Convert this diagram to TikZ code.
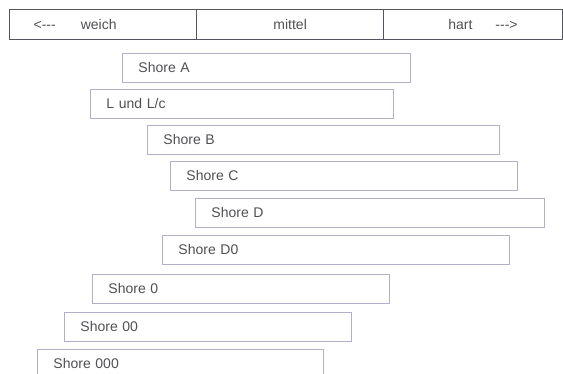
\documentclass[tikz,border=0pt]{standalone}
\usepackage{fontspec}
\setmainfont{Liberation Sans}
\usepackage{xcolor}
\usepackage{tikz}

\definecolor{textgray}{HTML}{505054}
\definecolor{barline}{HTML}{B2AFCB}
\definecolor{headline}{HTML}{55555F}

\begin{document}
\begin{tikzpicture}[x=1pt, y=-1pt]
    % Styles
    \tikzstyle{head} = [rectangle, draw=headline, line width=1.3pt, minimum height=30pt, anchor=north west, inner ysep=0pt, text=textgray, font=\fontsize{14}{16}\selectfont]
    \tikzstyle{bar} = [rectangle, draw=barline, line width=0.9pt, minimum height=29pt, anchor=north west, inner xsep=16pt, align=left, text=textgray, font=\fontsize{14}{16}\selectfont]

    \useasboundingbox (0,0) rectangle (563,374);
    \clip (0,0) rectangle (563,374);

    % Header
    \node[head, text width=139pt, inner xsep=24pt, align=left] (weich) at (9,9) {<{-}{-}{-}\hspace{25pt}weich};
    \node[head, minimum width=187pt] (mittel) at (196,9) {mittel};
    \node[head, text width=89pt, inner xsep=45pt, align=right] (hart) at (383,9) {hart\hspace{23pt}{-}{-}{-}>};

    % Scales
    \node[bar, text width=256pt] (shoreA) at (122,53) {Shore A};
    \node[bar, text width=271pt] (lundlc) at (90,89) {L und L/c};
    \node[bar, text width=320pt] (shoreB) at (147,125) {Shore B};
    \node[bar, text width=315pt] (shoreC) at (170,161) {Shore C};
    \node[bar, text width=317pt] (shoreD) at (195,198) {Shore D};
    \node[bar, text width=315pt] (shoreDnull) at (162,235) {Shore D0};
    \node[bar, text width=265pt] (shorenull) at (92,274) {Shore 0};
    \node[bar, text width=255pt] (shorenullnull) at (64,312) {Shore 00};
    \node[bar, text width=254pt] (shoretriple) at (37,349) {Shore 000};

\end{tikzpicture}
\end{document}
